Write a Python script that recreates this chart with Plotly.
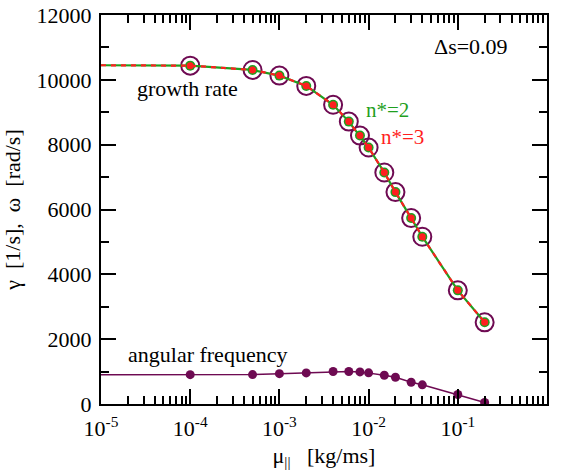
import plotly.graph_objects as go

# ---- data ----
mu = [1e-4, 5e-4, 1e-3, 2e-3, 4e-3, 6e-3, 8e-3, 1e-2, 1.5e-2, 2e-2, 3e-2, 4e-2, 0.1, 0.2]
growth = [10438, 10305, 10130, 9812, 9230, 8712, 8281, 7911, 7141, 6537, 5736, 5160, 3506, 2520]
omega = [905, 908, 935, 960, 1001, 1001, 991, 961, 887, 826, 672, 591, 293, 46]
# flat low-viscosity limit at the left edge of the axis
mu_edge = [1e-5]
growth_edge = [10450]
omega_edge = [905]

x_ticks = [1e-5, 1e-4, 1e-3, 1e-2, 1e-1, 1]
x_ticktext = ["10<sup>-5</sup>", "10<sup>-4</sup>", "10<sup>-3</sup>", "10<sup>-2</sup>",
              "10<sup>-1</sup>", "10<sup>0</sup>"]
x_minor = [m * 10.0 ** e for e in range(-5, 0) for m in range(2, 10)]
y_ticks = [0, 2000, 4000, 6000, 8000, 10000, 12000]
y_ticktext = ["0", "2000", "4000", "6000", "8000", "10000", "12000"]

PURPLE = "#6e0a52"
GREEN = "#1f9f1f"
RED = "#ff1f1f"
FONT = "'Liberation Serif', 'DejaVu Serif', serif"
FS = 22

fig = go.Figure()

x_line = mu_edge + mu
g_line = growth_edge + growth
w_line = omega_edge + omega

# angular frequency
fig.add_trace(go.Scatter(x=x_line, y=w_line, mode="lines",
                         line=dict(color=PURPLE, width=1.5), showlegend=False))
fig.add_trace(go.Scatter(x=mu, y=omega, mode="markers",
                         marker=dict(color=PURPLE, size=9), showlegend=False))

# growth rate: purple open circles, green (n*=2) and red (n*=3)
fig.add_trace(go.Scatter(x=mu, y=growth, mode="markers",
                         marker=dict(symbol="circle-open", color=PURPLE, size=18,
                                     line=dict(width=2, color=PURPLE)),
                         showlegend=False))
fig.add_trace(go.Scatter(x=x_line, y=g_line, mode="lines",
                         line=dict(color=GREEN, width=2.2), showlegend=False))
fig.add_trace(go.Scatter(x=mu, y=growth, mode="markers",
                         marker=dict(color=GREEN, size=10), showlegend=False))
fig.add_trace(go.Scatter(x=x_line, y=g_line, mode="lines",
                         line=dict(color=RED, width=2.2, dash="5px,5px"), showlegend=False))
fig.add_trace(go.Scatter(x=mu, y=growth, mode="markers",
                         marker=dict(color=RED, size=7), showlegend=False))

ann_font = dict(family=FONT, size=FS, color="black")
annotations = [
    dict(text="growth rate", x=0.194, y=0.81, font=ann_font),
    dict(text="\u0394s=0.09", x=0.83, y=0.918, font=ann_font),
    dict(text="n*=2", x=0.642, y=0.755, font=dict(family=FONT, size=21, color=GREEN), borderpad=0),
    dict(text="n*=3", x=0.675, y=0.686, font=dict(family=FONT, size=21, color=RED), borderpad=0),
    dict(text="angular frequency", x=0.238, y=0.128, font=ann_font),
]
for a in annotations:
    a.update(xref="paper", yref="paper", showarrow=False, xanchor="center", yanchor="middle")

fig.update_layout(
    width=561, height=472,
    margin=dict(l=101, r=14, t=15, b=68),
    plot_bgcolor="white", paper_bgcolor="white",
    font=dict(family=FONT, size=FS, color="black"),
    annotations=annotations,
    xaxis=dict(type="log", range=[-5, 0], tickmode="array", tickvals=x_ticks, ticktext=x_ticktext,
               ticks="inside", ticklen=15, tickwidth=2, tickcolor="black",
               showline=True, linewidth=2, linecolor="black", mirror="allticks",
               showgrid=False, zeroline=False, ticklabelstandoff=4, automargin=False,
               minor=dict(tickmode="array", tickvals=x_minor, ticks="inside", ticklen=8,
                          tickwidth=1.5, tickcolor="black", showgrid=False),
               tickfont=dict(family=FONT, size=FS),
               title=dict(text="\u03bc<sub>||</sub>   [kg/ms]", font=dict(family=FONT, size=FS), standoff=7)),
    yaxis=dict(range=[0, 12000], tickmode="array", tickvals=y_ticks, ticktext=y_ticktext,
               ticks="inside", ticklen=15, tickwidth=2, tickcolor="black",
               showline=True, linewidth=2, linecolor="black", mirror="allticks",
               showgrid=False, zeroline=False, ticklabelstandoff=3, automargin=False,
               minor=dict(tickmode="linear", tick0=0, dtick=1000, ticks="inside", ticklen=8,
                          tickwidth=1.5, tickcolor="black", showgrid=False),
               tickfont=dict(family=FONT, size=FS),
               title=dict(text="\u03b3  [1/s],  \u03c9  [rad/s]", font=dict(family=FONT, size=FS), standoff=10)),
)

fig.write_html("out.html")
